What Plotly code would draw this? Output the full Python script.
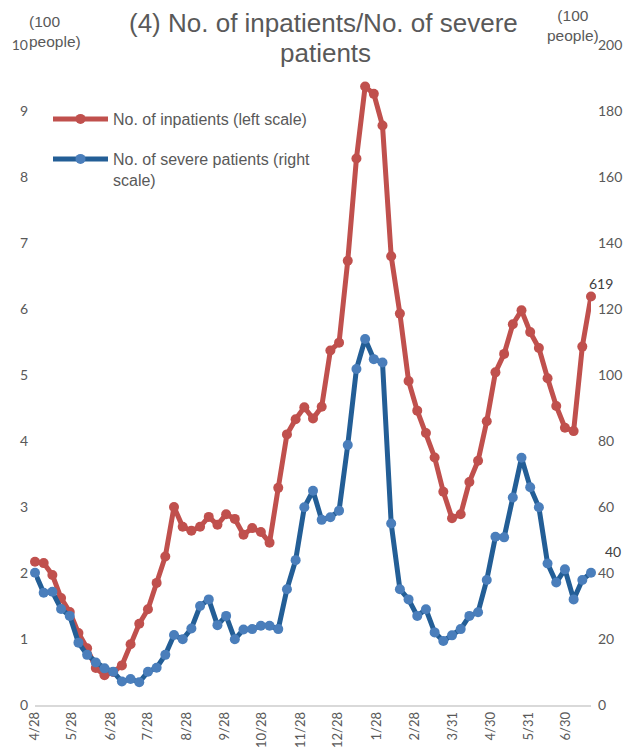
import pandas as pd
import plotly.graph_objects as go

start_date = "2020-04-28"
n_weeks = 65
dates = pd.date_range(start_date, periods=n_weeks, freq="7D")

inpatients = [2.17, 2.15, 1.97, 1.62, 1.41, 1.09, 0.86, 0.56, 0.45, 0.50,
              0.60, 0.92, 1.23, 1.45, 1.85, 2.25, 3.00, 2.70, 2.64, 2.70,
              2.85, 2.73, 2.89, 2.82, 2.58, 2.68, 2.62, 2.46, 3.29, 4.10,
              4.33, 4.51, 4.34, 4.52, 5.37, 5.49, 6.73, 8.28, 9.37, 9.26,
              8.78, 6.80, 5.93, 4.91, 4.46, 4.12, 3.75, 3.23, 2.83, 2.89,
              3.38, 3.70, 4.30, 5.04, 5.32, 5.77, 5.98, 5.65, 5.41, 4.95,
              4.53, 4.20, 4.15, 5.43, 6.19]

severe = [40.1, 34.0, 34.3, 29.1, 27.0, 18.9, 15.2, 12.9, 11.1, 10.1,
          7.1, 7.9, 6.9, 10.1, 11.3, 15.2, 21.2, 19.9, 23.2, 30.0,
          32.0, 24.2, 27.0, 19.9, 22.9, 23.0, 24.0, 24.0, 23.0, 35.1,
          43.9, 59.9, 64.9, 56.1, 56.9, 58.9, 78.8, 101.8, 110.9, 104.8,
          103.8, 55.0, 35.1, 32.0, 27.0, 29.0, 22.0, 19.4, 21.1, 23.0,
          27.0, 28.1, 37.9, 51.0, 50.8, 62.9, 74.9, 66.0, 59.9, 42.9,
          37.1, 41.1, 32.0, 37.9, 40.1]

tick_dates = ["2020-04-28", "2020-05-28", "2020-06-28", "2020-07-28", "2020-08-28",
              "2020-09-28", "2020-10-28", "2020-11-28", "2020-12-28", "2021-01-28",
              "2021-02-28", "2021-03-31", "2021-04-30", "2021-05-31", "2021-06-30"]
tick_labels = ["4/28", "5/28", "6/28", "7/28", "8/28", "9/28", "10/28", "11/28",
               "12/28", "1/28", "2/28", "3/31", "4/30", "5/31", "6/30"]

title_line1 = "(4) No. of inpatients/No. of severe"
title_line2 = "patients"
unit_text = "(100<br>people)"
label_inpatients = "619"
label_severe = "40"

RED = "#C0504D"
BLUE_LINE = "#235E96"
BLUE_MARK = "#4A7EBB"
GREY = "#595959"
TXT_FONT = "Liberation Sans, Arial, sans-serif"
NUM_FONT = "Lato, Liberation Sans, sans-serif"

# page body has an 8px default margin: the figure is offset by OFF
OFF = 8
PAGE_W, PAGE_H = 635, 750
W, H = PAGE_W - OFF, PAGE_H - OFF
# plot area in page pixels
PX0, PX1, PY0, PY1 = 35, 591, 45, 705
L = PX0 - OFF
R = W - (PX1 - OFF)
T = PY0 - OFF
B = H - (PY1 - OFF)
pw, ph = PX1 - PX0, PY1 - PY0


def px_x(px):
    return (px - PX0) / pw


def px_y(py):
    return (PY1 - py) / ph


fig = go.Figure()
fig.add_trace(go.Scatter(
    x=dates, y=inpatients, name="No. of inpatients (left scale)",
    mode="lines+markers", line=dict(color=RED, width=5),
    marker=dict(color=RED, size=10), cliponaxis=False, legend="legend"))
fig.add_trace(go.Scatter(
    x=dates, y=severe, name="No. of severe patients (right<br>scale)",
    mode="lines+markers", line=dict(color=BLUE_LINE, width=5),
    marker=dict(color=BLUE_MARK, size=10), cliponaxis=False, yaxis="y2",
    legend="legend2"))

fig.update_layout(
    width=W, height=H,
    margin=dict(l=L, r=R, t=T, b=B, autoexpand=False),
    paper_bgcolor="white", plot_bgcolor="white",
    showlegend=True,
    xaxis=dict(type="date", range=[dates[0], dates[-1]],
               tickvals=tick_dates, ticktext=tick_labels, tickangle=-90,
               tickfont=dict(family=NUM_FONT, size=13, color=GREY),
               showgrid=False, zeroline=False, showline=True,
               linecolor="#D9D9D9", linewidth=1.5, ticks=""),
    yaxis=dict(range=[0, 10], dtick=1, showgrid=False, zeroline=False,
               tickfont=dict(family=NUM_FONT, size=14, color=GREY),
               ticklabelstandoff=6, showline=False),
    yaxis2=dict(range=[0, 200], dtick=20, overlaying="y", side="right",
                showgrid=False, zeroline=False,
                tickfont=dict(family=NUM_FONT, size=14, color=GREY),
                ticklabelstandoff=6, showline=False),
    legend=dict(x=px_x(48), y=px_y(119), xanchor="left", yanchor="middle",
                bgcolor="rgba(0,0,0,0)", itemwidth=55,
                font=dict(family=TXT_FONT, size=16, color=GREY)),
    legend2=dict(x=px_x(48), y=px_y(142), xanchor="left", yanchor="top",
                 bgcolor="rgba(0,0,0,0)", itemwidth=55, valign="top",
                 font=dict(family=TXT_FONT, size=16, color=GREY)),
)

fig.add_annotation(text=title_line1, xref="paper", yref="paper",
                   x=px_x(323), y=px_y(23), xanchor="center", yanchor="middle",
                   showarrow=False, font=dict(family=TXT_FONT, size=26, color=GREY))
fig.add_annotation(text=title_line2, xref="paper", yref="paper",
                   x=px_x(325), y=px_y(53), xanchor="center", yanchor="middle",
                   showarrow=False, font=dict(family=TXT_FONT, size=26, color=GREY))
fig.add_annotation(text=unit_text, xref="paper", yref="paper",
                   x=px_x(27), y=px_y(32), xanchor="left", yanchor="middle",
                   align="left", showarrow=False,
                   font=dict(family=TXT_FONT, size=15.5, color=GREY))
fig.add_annotation(text=unit_text, xref="paper", yref="paper",
                   x=px_x(573), y=px_y(25), xanchor="center", yanchor="middle",
                   align="center", showarrow=False,
                   font=dict(family=TXT_FONT, size=15.5, color=GREY))
fig.add_annotation(text=label_inpatients, x=dates[-1], y=inpatients[-1],
                   xref="x", yref="y", xshift=10, yshift=13, showarrow=False,
                   font=dict(family=NUM_FONT, size=14, color="#404040"))
fig.add_annotation(text=label_severe, x=dates[-1], y=severe[-1],
                   xref="x", yref="y2", xshift=22, yshift=21, showarrow=False,
                   font=dict(family=NUM_FONT, size=14, color="#404040"))

fig.write_html("out.html")
